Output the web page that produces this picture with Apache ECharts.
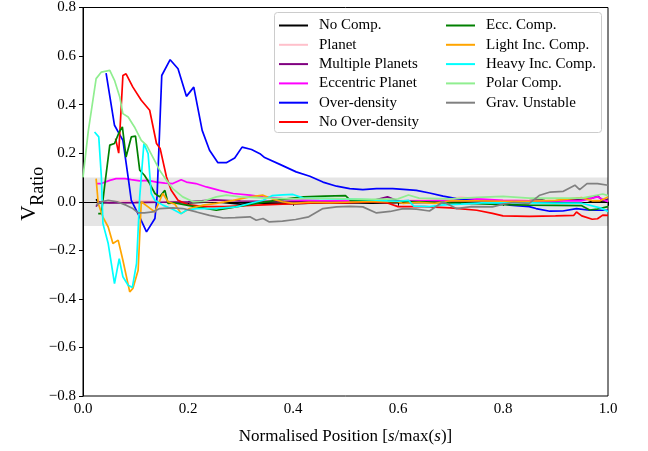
<!DOCTYPE html>
<html><head><meta charset="utf-8">
<script src="https://cdn.jsdelivr.net/npm/echarts@6/dist/echarts.min.js"></script>
<style>html,body{margin:0;padding:0;background:#fff}#c{width:648px;height:451px}</style>
</head><body><div id="c"></div>
<script>
const seriesNames = ['No Comp.','Planet','Multiple Planets','Eccentric Planet','Over-density','No Over-density','Ecc. Comp.','Light Inc. Comp.','Heavy Inc. Comp.','Polar Comp.','Grav. Unstable'];
const xTicks = [0.0,0.2,0.4,0.6,0.8,1.0];
const yTicks = [-0.8,-0.6,-0.4,-0.2,0.0,0.2,0.4,0.6,0.8];
const bandRange = [-0.1, 0.1];

const noComp = [[0.025,0.01],[0.03,-0.005],[0.05,-0.003],[0.1,-0.002],[0.15,0],[0.2,-0.005],[0.25,0.0],[0.3,-0.01],[0.35,-0.005],[0.4,-0.008],[0.45,-0.005],[0.5,-0.004],[0.55,-0.006],[0.6,-0.004],[0.65,-0.003],[0.7,-0.003],[0.75,0],[0.8,0.002],[0.85,0.005],[0.87,0.01],[0.88,0.005],[0.9,0.003],[0.93,0.01],[0.95,0.015],[0.97,0.0],[1.0,0.005]];
const planet = [[0.03,0.0],[0.1,0.005],[0.2,0.0],[0.3,0.003],[0.4,0.0],[0.5,0.003],[0.55,0.005],[0.6,0.005],[0.7,0.012],[0.72,0.02],[0.75,0.01],[0.8,0.008],[0.9,0.005],[1.0,0.008]];
const multiPlanets = [[0.025,-0.02],[0.03,0.0],[0.05,-0.005],[0.1,-0.004],[0.15,-0.002],[0.2,0],[0.25,0.008],[0.3,0.003],[0.35,0.002],[0.4,0.002],[0.45,0.0],[0.5,0.002],[0.55,0.004],[0.58,0.02],[0.6,0.003],[0.65,0.002],[0.7,0.002],[0.75,0.004],[0.8,0.002],[0.85,0.003],[0.9,0.004],[0.97,0.015],[0.98,0.025],[0.99,0.005],[1.0,0.01]];
const eccPlanet = [[0.025,0.075],[0.035,0.075],[0.051,0.088],[0.063,0.095],[0.08,0.095],[0.092,0.091],[0.108,0.086],[0.124,0.088],[0.14,0.081],[0.156,0.077],[0.171,0.075],[0.187,0.091],[0.197,0.081],[0.215,0.075],[0.235,0.061],[0.26,0.047],[0.286,0.034],[0.318,0.027],[0.343,0.02],[0.36,0.017],[0.4,0.008],[0.45,0.005],[0.5,0.004],[0.55,0.002],[0.6,0.004],[0.65,0.004],[0.7,0.006],[0.75,0.012],[0.8,0.006],[0.85,0.004],[0.9,0.004],[0.95,0.004],[0.98,0.02],[1.0,0.0]];
const overDensity = [[0.044,0.53],[0.06,0.315],[0.076,0.253],[0.086,0.10],[0.092,0.006],[0.108,-0.063],[0.121,-0.124],[0.137,-0.069],[0.141,0.02],[0.15,0.52],[0.166,0.585],[0.181,0.548],[0.197,0.434],[0.211,0.472],[0.227,0.294],[0.241,0.212],[0.257,0.161],[0.273,0.161],[0.289,0.18],[0.303,0.225],[0.321,0.215],[0.337,0.198],[0.346,0.182],[0.375,0.154],[0.406,0.123],[0.432,0.105],[0.457,0.081],[0.483,0.064],[0.508,0.054],[0.533,0.05],[0.559,0.054],[0.59,0.054],[0.61,0.051],[0.635,0.047],[0.66,0.036],[0.686,0.023],[0.711,0.013],[0.762,0.0],[0.8,-0.007],[0.813,-0.014],[0.85,-0.02],[0.863,-0.028],[0.889,-0.039],[0.914,-0.038],[0.94,-0.028],[0.965,-0.035],[1.0,-0.035]];
const noOverDensity = [[0.062,0.26],[0.068,0.20],[0.076,0.52],[0.082,0.527],[0.095,0.472],[0.111,0.418],[0.127,0.377],[0.14,0.24],[0.147,0.219],[0.159,0.102],[0.168,0.047],[0.181,0.006],[0.2,-0.012],[0.23,-0.02],[0.27,-0.02],[0.32,-0.015],[0.38,-0.01],[0.44,-0.005],[0.5,-0.005],[0.55,0.0],[0.58,-0.005],[0.6,-0.02],[0.65,-0.02],[0.7,-0.025],[0.75,-0.035],[0.78,-0.048],[0.8,-0.058],[0.85,-0.06],[0.9,-0.058],[0.935,-0.056],[0.94,-0.042],[0.95,-0.058],[0.97,-0.072],[0.98,-0.07],[0.99,-0.055],[1.0,-0.056]];
const eccComp = [[0.029,-0.049],[0.035,-0.049],[0.041,0.061],[0.051,0.233],[0.06,0.24],[0.069,0.287],[0.075,0.308],[0.082,0.184],[0.092,0.267],[0.1,0.27],[0.108,0.13],[0.117,0.109],[0.127,0.075],[0.137,0.034],[0.146,0.02],[0.156,0.047],[0.162,-0.007],[0.175,-0.005],[0.2,-0.015],[0.254,-0.035],[0.28,-0.025],[0.33,-0.007],[0.38,0.01],[0.42,0.02],[0.46,0.023],[0.5,0.025],[0.51,0.005],[0.55,0.004],[0.6,0.002],[0.65,0.0],[0.7,-0.005],[0.75,-0.008],[0.8,-0.012],[0.85,-0.014],[0.9,-0.015],[0.95,-0.016],[0.965,-0.034],[0.98,-0.03],[1.0,-0.02]];
const lightInc = [[0.025,0.095],[0.029,-0.007],[0.038,-0.063],[0.048,-0.104],[0.057,-0.172],[0.067,-0.158],[0.076,-0.241],[0.089,-0.371],[0.095,-0.357],[0.105,-0.282],[0.111,0.0],[0.124,-0.021],[0.137,-0.042],[0.152,0.034],[0.162,0.0],[0.175,-0.01],[0.187,-0.049],[0.203,-0.028],[0.229,-0.014],[0.254,-0.007],[0.286,0.006],[0.318,0.02],[0.343,0.027],[0.36,0.012],[0.38,0.0],[0.4,-0.007],[0.43,-0.002],[0.47,-0.004],[0.5,-0.002],[0.55,0.001],[0.6,0.0],[0.61,-0.007],[0.64,-0.002],[0.67,-0.007],[0.7,0.004],[0.75,0.004],[0.8,0.002],[0.85,0.002],[0.9,0.006],[0.95,0.017],[0.97,0.004],[0.985,0.004],[1.0,0.02]];
const heavyInc = [[0.022,0.287],[0.03,0.267],[0.035,0.102],[0.038,-0.09],[0.048,-0.172],[0.06,-0.337],[0.069,-0.234],[0.076,-0.309],[0.086,-0.344],[0.094,-0.353],[0.102,-0.254],[0.108,0.02],[0.116,0.24],[0.124,0.198],[0.13,0.034],[0.137,0.006],[0.152,-0.014],[0.17,-0.03],[0.187,-0.049],[0.197,-0.035],[0.216,-0.028],[0.25,-0.028],[0.292,-0.021],[0.343,0.006],[0.36,0.025],[0.38,0.028],[0.4,0.03],[0.42,0.015],[0.46,0.013],[0.52,0.01],[0.55,0.008],[0.58,0.004],[0.6,0.002],[0.62,0.006],[0.63,-0.018],[0.66,-0.02],[0.68,-0.014],[0.72,-0.01],[0.76,-0.005],[0.8,-0.005],[0.85,-0.005],[0.9,-0.006],[0.95,-0.006],[0.985,-0.025],[1.0,-0.04]];
const polarComp = [[0.0,0.10],[0.01,0.29],[0.025,0.507],[0.035,0.534],[0.051,0.541],[0.06,0.5],[0.07,0.431],[0.076,0.363],[0.086,0.349],[0.098,0.308],[0.111,0.253],[0.121,0.233],[0.133,0.184],[0.146,0.13],[0.159,0.088],[0.171,0.054],[0.19,0.02],[0.21,0.0],[0.23,0.003],[0.254,0.02],[0.273,0.027],[0.3,0.02],[0.35,0.015],[0.4,0.012],[0.45,0.015],[0.5,0.012],[0.55,0.01],[0.6,0.012],[0.62,0.028],[0.64,0.015],[0.7,0.012],[0.75,0.018],[0.8,0.022],[0.85,0.015],[0.9,0.015],[0.95,0.015],[0.99,0.032],[1.0,0.025]];
const gravUnstable = [[0.025,-0.014],[0.035,0.0],[0.048,0.006],[0.065,0.0],[0.082,-0.014],[0.095,-0.028],[0.105,-0.046],[0.117,-0.046],[0.133,-0.042],[0.146,-0.028],[0.171,-0.025],[0.19,-0.028],[0.216,-0.042],[0.241,-0.056],[0.267,-0.067],[0.29,-0.065],[0.318,-0.062],[0.33,-0.076],[0.343,-0.069],[0.355,-0.083],[0.38,-0.08],[0.405,-0.073],[0.43,-0.062],[0.457,-0.028],[0.483,-0.021],[0.508,-0.019],[0.533,-0.021],[0.559,-0.046],[0.585,-0.04],[0.61,-0.028],[0.635,-0.03],[0.66,-0.038],[0.686,0.0],[0.711,-0.028],[0.74,-0.02],[0.78,-0.021],[0.8,-0.01],[0.82,-0.003],[0.85,-0.007],[0.87,0.027],[0.89,0.04],[0.915,0.043],[0.937,0.068],[0.946,0.05],[0.96,0.075],[0.98,0.075],[1.0,0.068]];

const allData = [noComp, planet, multiPlanets, eccPlanet, overDensity, noOverDensity, eccComp, lightInc, heavyInc, polarComp, gravUnstable];
const colors = ['#000000','#ffc0cb','#800080','#ff00ff','#0000ff','#ff0000','#008000','#ffa500','#00ffff','#90ee90','#808080'];

const FONT = '"Liberation Serif", "DejaVu Serif", serif';
const fmt = v => (v < 0 ? '\u2212' : '') + Math.abs(v).toFixed(1);

const chart = echarts.init(document.getElementById('c'), null, {renderer: 'canvas'});
const series = allData.map((d, i) => ({
  name: seriesNames[i], type: 'line', data: d, showSymbol: false, symbol: 'none',
  lineStyle: {color: colors[i], width: 1.7}, itemStyle: {color: colors[i]},
  z: 2, animation: false, clip: true
}));
series.unshift({
  name: 'band', type: 'line', data: [], z: 1, animation: false,
  markArea: {silent: true, itemStyle: {color: 'rgba(0,0,0,0.1)'},
    data: [[{yAxis: bandRange[0]}, {yAxis: bandRange[1]}]]}
});
const legendText = {fontFamily: FONT, fontSize: 15, color: '#000', padding: [0,0,0,6], lineHeight: 15};
const option = {
  animation: false,
  backgroundColor: '#fff',
  grid: {left: 83, right: 40, top: 7, bottom: 55, show: true, borderColor: '#000', borderWidth: 1, backgroundColor: 'transparent'},
  xAxis: {
    type: 'value', min: 0, max: 1, interval: 0.2,
    axisLine: {lineStyle: {color: '#000', width: 1}},
    axisTick: {inside: false, length: 4, lineStyle: {color: '#000'}},
    splitLine: {show: false},
    axisLabel: {fontFamily: FONT, fontSize: 15, color: '#000', margin: 6, formatter: fmt},
    name: '{n|Normalised Position [}{i|s}{n|/max(}{i|s}{n|)]}',
    nameLocation: 'middle', nameGap: 32, nameMoveOverlap: false,
    nameTextStyle: {rich: {n: {fontFamily: FONT, fontSize: 17, color: '#000'}, i: {fontFamily: FONT, fontSize: 17, fontStyle: 'italic', color: '#000'}}}
  },
  yAxis: {
    type: 'value', min: -0.8, max: 0.8, interval: 0.2,
    axisLine: {show: true, lineStyle: {color: '#000', width: 1}},
    axisTick: {show: true, inside: false, length: 4, lineStyle: {color: '#000'}},
    splitLine: {show: false},
    axisLabel: {fontFamily: FONT, fontSize: 15, color: '#000', margin: 7, formatter: fmt},
    name: '{v|V}{s|Ratio}', nameLocation: 'middle', nameRotate: 90, nameGap: 36, nameMoveOverlap: false,
    nameTextStyle: {padding: [0,0,0,16], rich: {v: {fontFamily: FONT, fontSize: 21, color: '#000', verticalAlign: 'top', lineHeight: 28}, s: {fontFamily: FONT, fontSize: 18, color: '#000', verticalAlign: 'bottom', lineHeight: 28, padding: [8,0,0,0]}}}
  },
  graphic: [{type: 'rect', left: 274, top: 12, z: 3, shape: {width: 327, height: 120, r: 3}, style: {fill: 'rgba(255,255,255,0.85)', stroke: '#cccccc', lineWidth: 1}}],
  legend: [
    {data: seriesNames.slice(0, 6), orient: 'vertical', left: 279, top: 18, padding: 0, itemWidth: 29, itemHeight: 2, icon: 'rect', itemGap: 4.3, textStyle: legendText, z: 4, selectedMode: false},
    {data: seriesNames.slice(6), orient: 'vertical', left: 446, top: 18, padding: 0, itemWidth: 29, itemHeight: 2, icon: 'rect', itemGap: 4.3, textStyle: legendText, z: 4, selectedMode: false}
  ],
  series: series
};
chart.setOption(option);
</script></body></html>
